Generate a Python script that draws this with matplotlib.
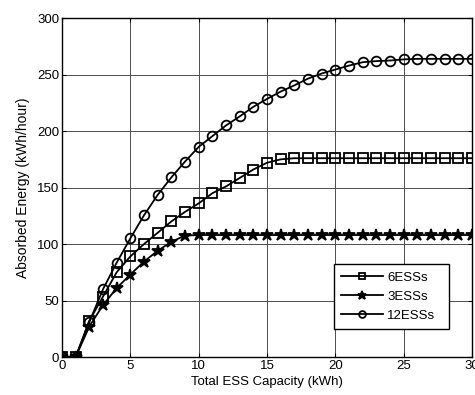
import matplotlib
matplotlib.use('Agg')
import matplotlib.pyplot as plt
import numpy as np

plt.rcParams['font.family'] = ['Liberation Sans', 'DejaVu Sans']

capacity = list(range(0, 31))
ess6 = [0, 0, 32, 53.5, 75, 89, 100, 110, 120, 128.5, 136, 145, 151, 158.5, 166, 172, 175,
        176, 176, 176, 176, 176, 176, 176, 176, 176, 176, 176, 176, 176, 176]
ess3 = [0, 0, 27, 46, 61, 73, 84.5, 94, 102, 107.5, 108, 108, 108, 108, 108, 108, 108,
        108, 108, 108, 108, 108, 108, 108, 108, 108, 108, 108, 108, 108, 108]
ess12 = [0, 0, 31, 60, 83.5, 105, 125.5, 143.5, 159, 173, 186, 195.5, 205, 213, 221.5, 228.5, 235,
         240.5, 246.5, 251, 254.5, 258, 261, 262, 262.5, 263.5, 264, 264, 264, 264, 264]

fig = plt.figure(figsize=(4.75, 3.95), dpi=100)
ax = fig.add_axes([0.1305, 0.0962, 0.8632, 0.8578])

style = dict(color='black', lw=1.3, markerfacecolor='none', markeredgecolor='black',
             markeredgewidth=1.3)
ax.plot(capacity, ess6, marker='s', markersize=6.5, label='6ESSs', **style)
ax.plot(capacity, ess3, marker='*', markersize=9, markerfacecolor='black', label='3ESSs',
        **{k: v for k, v in style.items() if k != 'markerfacecolor'})
ax.plot(capacity, ess12, marker='o', markersize=7, label='12ESSs', **style)

ax.set_xlim(0, 30)
ax.set_ylim(0, 300)
ax.set_xticks(np.arange(0, 31, 5))
ax.set_yticks(np.arange(0, 301, 50))
ax.grid(True, color='0.3', lw=0.7, ls='-')
ax.tick_params(direction='in', top=True, right=True, labelsize=9.5, length=3, pad=2)
for s in ax.spines.values():
    s.set_linewidth(1.0)

ax.set_xlabel('Total ESS Capacity (kWh)', fontsize=9.5, labelpad=3)
ax.set_ylabel('Absorbed Energy (kWh/hour)', fontsize=10, labelpad=5)

leg = ax.legend(loc='lower left', bbox_to_anchor=(0.663, 0.083, 0.28, 0.195), mode='expand',
                fontsize=9.5, frameon=True, fancybox=False, edgecolor='black',
                borderpad=0.55, labelspacing=0.5, handlelength=3.2, handletextpad=0.3,
                borderaxespad=0, markerscale=0.7)
leg.get_frame().set_linewidth(1.0)
leg.get_frame().set_alpha(1)

fig.savefig('out.png', dpi=100)
